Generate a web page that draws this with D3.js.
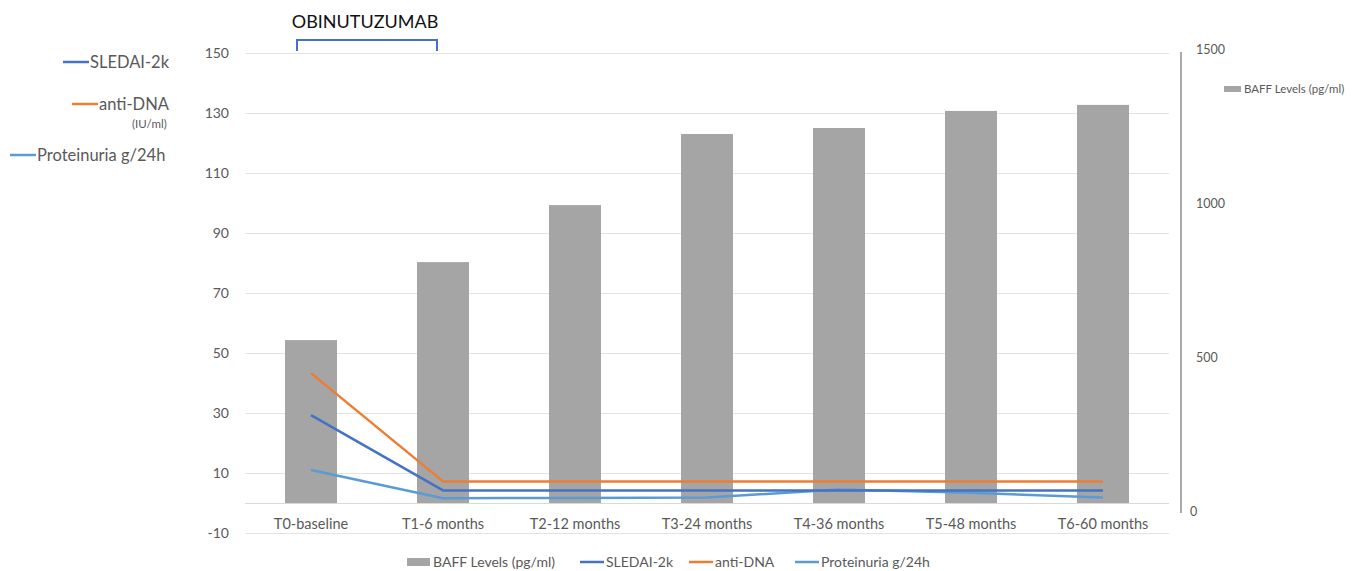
<!DOCTYPE html>
<html>
<head>
<meta charset="utf-8">
<script src="https://cdn.jsdelivr.net/npm/d3@7"></script>
<style>
  html, body { margin: 0; padding: 0; background: #fff; }
  svg text { font-family: Lato, "Open Sans", "Noto Sans", sans-serif; }
</style>
</head>
<body>
<svg id="chart" width="1361" height="571"></svg>
<script>
// Timepoints
const categories = ["T0-baseline", "T1-6 months", "T2-12 months", "T3-24 months",
                    "T4-36 months", "T5-48 months", "T6-60 months"];
// BAFF levels (pg/ml), secondary axis
const baff = [543, 803, 993, 1230, 1250, 1307, 1327];
// Clinical markers, primary axis
const sledai = [29.3, 4.2, 4.2, 4.2, 4.2, 4.2, 4.2];
const antiDna = [43.3, 7.2, 7.2, 7.2, 7.2, 7.2, 7.2];
const proteinuria = [11, 1.6, 1.7, 1.8, 4.5, 3.4, 1.8];
// Axis ticks
const leftTicks = [-10, 10, 30, 50, 70, 90, 110, 130, 150];
const rightTicks = [0, 500, 1000, 1500];

const colors = {
  baff: "#a5a5a5",
  sledai: "#4472c4",
  antiDna: "#ed7d31",
  proteinuria: "#5b9bd5",
  text: "#595959",
  grid: "#e3e3e3"
};

const svg = d3.select("#chart");

const plotLeft = 245, plotRight = 1169;
const x = d3.scaleBand().domain(categories).range([plotLeft, plotRight])
  .paddingInner(0.606).paddingOuter(0.303);
const yLeft = d3.scaleLinear().domain([-10, 150]).range([533, 53]);
const yBar = d3.scaleLinear().domain([0, 1500]).range([503, 53]);
const yRightAxis = d3.scaleLinear().domain([0, 1500]).range([512, 50]);

// Gridlines and left axis labels
const gridVals = leftTicks.concat([0]);
svg.append("g").selectAll("line").data(gridVals).join("line")
  .attr("x1", plotLeft).attr("x2", plotRight)
  .attr("y1", d => Math.round(yLeft(d)) + 0.5).attr("y2", d => Math.round(yLeft(d)) + 0.5)
  .attr("stroke", d => d === 0 ? "#d9d9d9" : colors.grid).attr("stroke-width", 1);

svg.append("g").selectAll("text").data(leftTicks).join("text")
  .attr("x", 229).attr("y", d => yLeft(d)).attr("dy", "0.35em")
  .attr("text-anchor", "end").attr("font-size", 14).attr("fill", colors.text)
  .text(d => d);

// BAFF bars
svg.append("g").selectAll("rect").data(baff).join("rect")
  .attr("x", (d, i) => x(categories[i])).attr("width", x.bandwidth())
  .attr("y", d => yBar(d)).attr("height", d => yBar(0) - yBar(d))
  .attr("fill", colors.baff);

// Marker lines
const lineGen = d3.line()
  .x((d, i) => x(categories[i]) + x.bandwidth() / 2)
  .y(d => yLeft(d));
[[proteinuria, colors.proteinuria], [sledai, colors.sledai], [antiDna, colors.antiDna]]
  .forEach(([vals, c]) => {
    svg.append("path").datum(vals).attr("d", lineGen)
      .attr("fill", "none").attr("stroke", c).attr("stroke-width", 2.5)
      .attr("stroke-linejoin", "round");
  });

// Category labels
svg.append("g").selectAll("text").data(categories).join("text")
  .attr("x", d => x(d) + x.bandwidth() / 2).attr("y", 524).attr("dy", "0.35em")
  .attr("text-anchor", "middle").attr("font-size", 14.5).attr("fill", colors.text)
  .text(d => d);

// Secondary axis
svg.append("line").attr("x1", 1181).attr("x2", 1181)
  .attr("y1", yRightAxis(1500) + 2).attr("y2", yRightAxis(0) + 1)
  .attr("stroke", "#aaaaaa").attr("stroke-width", 2);
svg.append("g").selectAll("text").data(rightTicks).join("text")
  .attr("x", d => d === 0 ? 1190 : 1196).attr("y", d => yRightAxis(d)).attr("dy", "0.35em")
  .attr("font-size", 12.5).attr("fill", colors.text)
  .text(d => d);

// Secondary legend
svg.append("rect").attr("x", 1224).attr("y", 86).attr("width", 17).attr("height", 6).attr("fill", colors.baff);
svg.append("text").attr("x", 1244).attr("y", 89).attr("dy", "0.35em")
  .attr("font-size", 11.5).attr("fill", colors.text).text("BAFF Levels (pg/ml)");

// Treatment bracket
const bx0 = x(categories[0]) + x.bandwidth() / 2 - 14;
const bx1 = x(categories[1]) + x.bandwidth() / 2 - 6;
svg.append("path")
  .attr("d", `M${bx0},51 L${bx0},40 L${bx1},40 L${bx1},51`)
  .attr("fill", "none").attr("stroke", colors.sledai).attr("stroke-width", 2);
svg.append("text").attr("x", (bx0 + bx1) / 2 - 2).attr("y", 22).attr("dy", "0.35em")
  .attr("text-anchor", "middle").attr("font-size", 18).attr("fill", "#111")
  .text("OBINUTUZUMAB");

// Left legend
const leftLegend = [
  { label: "SLEDAI-2k", color: colors.sledai, x0: 63, y: 62 },
  { label: "anti-DNA", color: colors.antiDna, x0: 72, y: 104 },
  { label: "Proteinuria g/24h", color: colors.proteinuria, x0: 10, y: 155 }
];
leftLegend.forEach(d => {
  svg.append("line").attr("x1", d.x0).attr("x2", d.x0 + 26)
    .attr("y1", d.y).attr("y2", d.y).attr("stroke", d.color).attr("stroke-width", 2.5);
  svg.append("text").attr("x", d.x0 + 27).attr("y", d.y).attr("dy", "0.35em")
    .attr("font-size", 16.5).attr("fill", colors.text).text(d.label);
});
svg.append("text").attr("x", 132).attr("y", 124).attr("dy", "0.35em")
  .attr("font-size", 11.5).attr("fill", colors.text).text("(IU/ml)");

// Bottom legend
const bottomLegend = [
  { label: "BAFF Levels (pg/ml)", color: colors.baff, type: "rect", x0: 407 },
  { label: "SLEDAI-2k", color: colors.sledai, type: "line", x0: 580 },
  { label: "anti-DNA", color: colors.antiDna, type: "line", x0: 689 },
  { label: "Proteinuria g/24h", color: colors.proteinuria, type: "line", x0: 795 }
];
const ly = 562;
bottomLegend.forEach(d => {
  if (d.type === "rect") {
    svg.append("rect").attr("x", d.x0).attr("y", ly - 4).attr("width", 23).attr("height", 8).attr("fill", d.color);
  } else {
    svg.append("line").attr("x1", d.x0).attr("x2", d.x0 + 24)
      .attr("y1", ly).attr("y2", ly).attr("stroke", d.color).attr("stroke-width", 2.5);
  }
  svg.append("text").attr("x", d.x0 + 26).attr("y", ly).attr("dy", "0.35em")
    .attr("font-size", 14).attr("fill", colors.text).text(d.label);
});
</script>
</body>
</html>
